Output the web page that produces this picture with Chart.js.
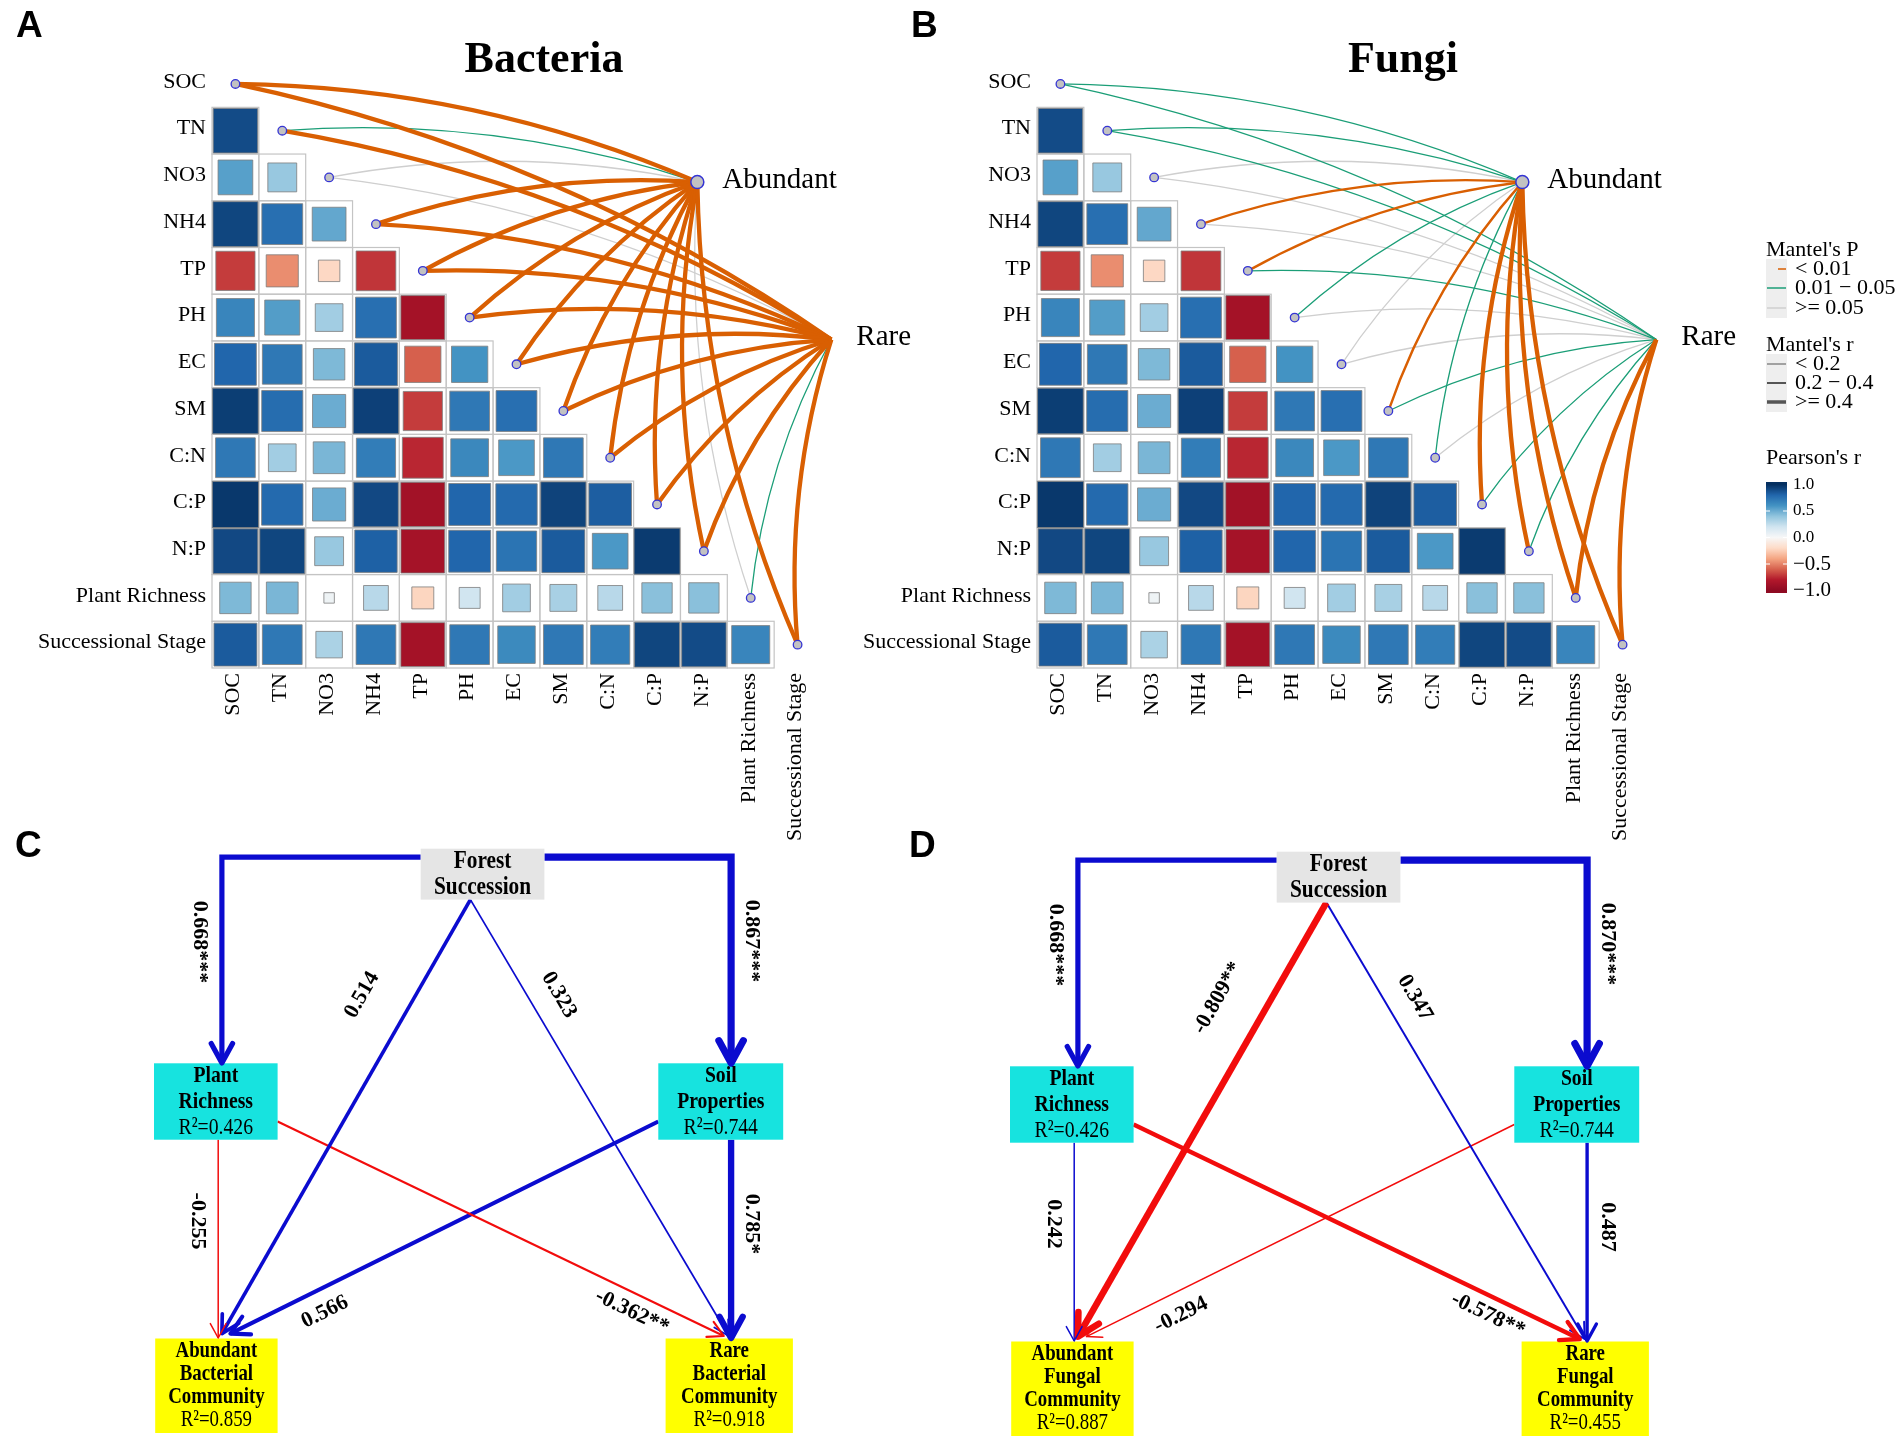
<!DOCTYPE html>
<html>
<head>
<meta charset="utf-8">
<title>Mantel tests and SEM</title>
<script src="https://cdn.jsdelivr.net/npm/chart.js@4.4.1/dist/chart.umd.min.js"></script>
<style>
  html, body { margin: 0; padding: 0; background: #fff; }
  #page { position: relative; width: 1901px; height: 1439px; overflow: hidden; background: #fff; }
  #page canvas { position: absolute; }
</style>
</head>
<body>
<div id="page">
  <canvas id="panelA" width="950" height="860" style="left:0;top:0;"></canvas>
  <canvas id="panelB" width="1076" height="860" style="left:825px;top:0;"></canvas>
  <canvas id="panelC" width="940" height="619" style="left:0;top:820px;"></canvas>
  <canvas id="panelD" width="940" height="616" style="left:856px;top:823px;"></canvas>
</div>
<script>
// ---------- data ----------
const envVars = ['SOC', 'TN', 'NO3', 'NH4', 'TP', 'PH', 'EC', 'SM', 'C:N', 'C:P', 'N:P',
                 'Plant Richness', 'Successional Stage'];

// Pearson's r, lower triangle (row i, columns 0..i-1)
const pearsonR = [
  [],
  [0.90],
  [0.55, 0.38],
  [0.92, 0.76, 0.52],
  [-0.70, -0.47, -0.21, -0.72],
  [0.66, 0.56, 0.35, 0.76, -0.88],
  [0.80, 0.72, 0.45, 0.84, -0.60, 0.60],
  [0.95, 0.77, 0.50, 0.94, -0.70, 0.72, 0.76],
  [0.72, 0.35, 0.46, 0.70, -0.76, 0.65, 0.58, 0.72],
  [0.97, 0.78, 0.50, 0.91, -0.89, 0.80, 0.78, 0.93, 0.83],
  [0.91, 0.92, 0.38, 0.82, -0.87, 0.80, 0.74, 0.84, 0.58, 0.96],
  [0.45, 0.46, 0.05, 0.28, -0.22, 0.20, 0.35, 0.33, 0.28, 0.42, 0.42],
  [0.84, 0.72, 0.32, 0.72, -0.88, 0.72, 0.64, 0.72, 0.70, 0.92, 0.90, 0.66]
];

const hubNames = ['Abundant', 'Rare'];

// Mantel tests, one value per env variable
const bacAbundantP = [0.001, 0.03, 0.30, 0.001, 0.001, 0.001, 0.001, 0.001, 0.001, 0.001, 0.001, 0.20, 0.001];
const bacAbundantR = [0.52, 0.15, 0.06, 0.50, 0.48, 0.50, 0.47, 0.53, 0.45, 0.55, 0.50, 0.08, 0.55];
const bacRareP     = [0.001, 0.001, 0.20, 0.001, 0.001, 0.001, 0.001, 0.001, 0.001, 0.001, 0.001, 0.02, 0.001];
const bacRareR     = [0.50, 0.45, 0.05, 0.50, 0.52, 0.48, 0.50, 0.51, 0.46, 0.53, 0.50, 0.15, 0.52];
const funAbundantP = [0.02, 0.02, 0.30, 0.005, 0.004, 0.03, 0.20, 0.008, 0.04, 0.001, 0.001, 0.001, 0.001];
const funAbundantR = [0.15, 0.15, 0.05, 0.25, 0.32, 0.15, 0.08, 0.24, 0.14, 0.48, 0.47, 0.50, 0.45];
const funRareP     = [0.02, 0.02, 0.30, 0.20, 0.03, 0.15, 0.20, 0.02, 0.10, 0.03, 0.03, 0.001, 0.001];
const funRareR     = [0.15, 0.15, 0.05, 0.08, 0.15, 0.08, 0.05, 0.15, 0.08, 0.15, 0.15, 0.55, 0.50];

// structural equation models: FS->PR, FS->SP, FS->AB, FS->RA, PR->AB, PR->RA, SP->AB, SP->RA
const bacCoef = [0.668, 0.867, 0.514, 0.323, -0.255, -0.362, 0.566, 0.785];
const bacSig  = ['***', '***', '', '', '', '**', '', '*'];
const funCoef = [0.668, 0.870, -0.809, 0.347, 0.242, -0.578, -0.294, 0.487];
const funSig  = ['***', '***', '**', '', '', '**', '', ''];
const bacR2 = [0.426, 0.744, 0.859, 0.918];
const funR2 = [0.426, 0.744, 0.887, 0.455];
const bacNodeNames = [['Forest', 'Succession'], ['Plant', 'Richness'], ['Soil', 'Properties'],
                      ['Abundant', 'Bacterial', 'Community'], ['Rare', 'Bacterial', 'Community']];
const funNodeNames = [['Forest', 'Succession'], ['Plant', 'Richness'], ['Soil', 'Properties'],
                      ['Abundant', 'Fungal', 'Community'], ['Rare', 'Fungal', 'Community']];

// ---------- styles / layout ----------
const SERIF = '"Liberation Serif", "Times New Roman", serif';
const SANS = '"Liberation Sans", Arial, sans-serif';
Chart.defaults.font.family = SERIF;
Chart.defaults.color = '#000';

const rdbuHex = ['#8E0A22', '#B2182B', '#D6604D', '#F4A582', '#FDDBC7', '#F7F7F7',
                 '#D1E5F0', '#92C5DE', '#4393C3', '#2166AC', '#053061'];
const pColors = ['#D95F02', '#1B9E77', '#CFCFCF'];
const hubAt = [[9.86, 2.10], [12.72, 5.47]];   // grid units

function parseHex(h) { return [1, 3, 5].map(k => parseInt(h.slice(k, k + 2), 16)); }
function rdbu(v) {
  const t = (Math.max(-1, Math.min(1, v)) + 1) * 5;
  const i = Math.min(9, Math.floor(t)), f = t - i;
  const a = parseHex(rdbuHex[i]), b = parseHex(rdbuHex[i + 1]);
  const c = a.map((ch, k) => Math.round(ch + (b[k] - ch) * f));
  return 'rgb(' + c.join(',') + ')';
}
function pClass(p) { return p < 0.01 ? 0 : (p < 0.05 ? 1 : 2); }
function rWidth(r) { return r < 0.2 ? 1.3 : (r < 0.4 ? 2.4 : 4.3); }

function drawMantelLegend(ctx) {
  const kx = 941, kw = 21, tx = 970;
  ctx.save();
  ctx.textAlign = 'left';
  ctx.textBaseline = 'middle';
  ctx.fillStyle = '#000';
  ctx.font = '22px ' + SERIF;
  ctx.fillText("Mantel's P", kx, 250);
  ctx.fillText("Mantel's r", kx, 345);
  ctx.fillText("Pearson's r", kx, 458);

  ctx.fillStyle = '#EEEEEE';
  ctx.fillRect(kx, 259, kw, 59);
  ctx.fillRect(kx, 354, kw, 58);

  const pText = ['< 0.01', '0.01 \u2212 0.05', '>= 0.05'];
  [269, 288, 308].forEach((yy, k) => {
    ctx.strokeStyle = pColors[k];
    ctx.lineWidth = 1.5;
    ctx.beginPath();
    ctx.moveTo(k === 0 ? kx + 12 : kx + 1, yy);
    ctx.lineTo(kx + kw - 1, yy);
    ctx.stroke();
    ctx.fillStyle = '#000';
    ctx.font = '22px ' + SERIF;
    ctx.fillText(pText[k], tx, yy);
  });

  const rText = ['< 0.2', '0.2 \u2212 0.4', '>= 0.4'];
  [364, 383, 402].forEach((yy, k) => {
    ctx.strokeStyle = '#555';
    ctx.lineWidth = [1, 2, 3.5][k];
    ctx.beginPath();
    ctx.moveTo(kx + 1, yy);
    ctx.lineTo(kx + kw - 1, yy);
    ctx.stroke();
    ctx.fillStyle = '#000';
    ctx.font = '22px ' + SERIF;
    ctx.fillText(rText[k], tx, yy);
  });

  // colour bar
  const yOf = v => 537.5 - v * 53;
  const grad = ctx.createLinearGradient(0, yOf(1), 0, yOf(-1));
  for (let s = 0; s <= 20; s++) grad.addColorStop(s / 20, rdbu(1 - s / 10));
  ctx.fillStyle = grad;
  ctx.fillRect(kx, 482, kw, 111);
  ctx.strokeStyle = '#fff';
  ctx.lineWidth = 1.2;
  [0.5, 0, -0.5].forEach(v => {
    ctx.beginPath();
    ctx.moveTo(kx, yOf(v)); ctx.lineTo(kx + 4, yOf(v));
    ctx.moveTo(kx + kw - 4, yOf(v)); ctx.lineTo(kx + kw, yOf(v));
    ctx.stroke();
  });
  ctx.fillStyle = '#000';
  [[1, '1.0'], [0.5, '0.5'], [0, '0.0'], [-0.5, '\u22120.5'], [-1, '\u22121.0']].forEach(([v, s]) => {
    ctx.font = (v < 0 ? '21px ' : '17px ') + SERIF;
    ctx.fillText(s, tx - 2, yOf(v));
  });
  ctx.restore();
}

// ---------- correlation + Mantel panels ----------
const corrPlugin = {
  id: 'corrDecor',
  beforeDatasetsDraw(chart) {
    const o = chart.options.plugins.corrDecor;
    const { ctx, scales: { x, y } } = chart;
    const px = v => x.getPixelForValue(v), py = v => y.getPixelForValue(v);
    ctx.save();
    ctx.strokeStyle = '#C4C4C4';
    ctx.lineWidth = 1.2;
    pearsonR.forEach((row, i) => row.forEach((r, j) => {
      const x0 = px(j - 0.5), x1 = px(j + 0.5), y0 = py(i - 0.5), y1 = py(i + 0.5);
      ctx.strokeRect(x0, y0, x1 - x0, y1 - y0);
    }));

    const links = [];
    [[o.abundP, o.abundR], [o.rareP, o.rareR]].forEach(([pArr, rArr], h) => {
      envVars.forEach((_, k) => links.push({ k, h, cls: pClass(pArr[k]), w: rWidth(rArr[k]) }));
    });
    links.sort((a, b) => b.cls - a.cls || a.w - b.w);
    links.forEach(l => {
      const x0 = px(l.k), y0 = py(l.k);
      const x1 = px(hubAt[l.h][0]), y1 = py(hubAt[l.h][1]);
      const dx = x1 - x0, dy = y1 - y0;
      ctx.beginPath();
      ctx.moveTo(x0, y0);
      ctx.quadraticCurveTo((x0 + x1) / 2 + 0.1 * dy, (y0 + y1) / 2 - 0.1 * dx, x1, y1);
      ctx.strokeStyle = pColors[l.cls];
      ctx.lineWidth = l.w;
      ctx.stroke();
    });
    ctx.restore();
  },
  afterDraw(chart) {
    const o = chart.options.plugins.corrDecor;
    const { ctx, scales: { x, y } } = chart;
    const px = v => x.getPixelForValue(v), py = v => y.getPixelForValue(v);
    ctx.save();
    ctx.fillStyle = '#000';
    ctx.font = '22px ' + SERIF;
    ctx.textAlign = 'right';
    ctx.textBaseline = 'middle';
    envVars.forEach((name, i) => ctx.fillText(name, px(-0.5) - 6, py(i) - 2));
    envVars.forEach((name, j) => {
      ctx.save();
      ctx.translate(px(j) - 2, py(12.5) + 5);
      ctx.rotate(-Math.PI / 2);
      ctx.fillText(name, 0, 0);
      ctx.restore();
    });

    ctx.textAlign = 'left';
    ctx.font = '29px ' + SERIF;
    hubNames.forEach((name, h) => ctx.fillText(name, px(hubAt[h][0]) + 25, py(hubAt[h][1]) - 2));

    ctx.textAlign = 'center';
    ctx.textBaseline = 'alphabetic';
    ctx.font = 'bold 44px ' + SERIF;
    ctx.fillText(o.title, o.titleX, 72);

    ctx.textAlign = 'left';
    ctx.font = 'bold 37px ' + SANS;
    ctx.fillText(o.letter, o.letterX, 37);
    ctx.restore();
    if (o.legend) drawMantelLegend(ctx);
  }
};

function corrPanel(id, opts) {
  const cells = [];
  pearsonR.forEach((row, i) => row.forEach((r, j) => cells.push({ x: j, y: i, r })));
  const diag = envVars.map((_, i) => ({ x: i, y: i }));
  const hubs = hubAt.map(p => ({ x: p[0], y: p[1] }));
  const canvas = document.getElementById(id);
  return new Chart(canvas, {
    type: 'scatter',
    data: {
      datasets: [
        { data: hubs, pointRadius: 6.5, backgroundColor: '#C2C2C2', borderColor: '#3434D4', borderWidth: 1.5, clip: false },
        { data: diag, pointRadius: 4.3, backgroundColor: '#C2C2C2', borderColor: '#3434D4', borderWidth: 1.3, clip: false },
        {
          data: cells,
          pointStyle: 'rect',
          pointRadius: ctx => {
            if (!ctx.raw) return 0;
            const xs = ctx.chart.scales.x;
            const cell = xs.getPixelForValue(1) - xs.getPixelForValue(0);
            return cell * Math.sqrt(Math.abs(ctx.raw.r)) / Math.SQRT2;
          },
          backgroundColor: ctx => ctx.raw ? rdbu(ctx.raw.r) : '#fff',
          borderColor: '#7E7E7E',
          borderWidth: 0.8,
          clip: false
        }
      ]
    },
    options: {
      responsive: false,
      animation: false,
      events: [],
      layout: { padding: { left: 212, right: canvas.width - 821, top: 60.6, bottom: canvas.height - 668 } },
      scales: {
        x: { type: 'linear', min: -0.5, max: 12.5, display: false },
        y: { type: 'linear', min: -0.5, max: 12.5, reverse: true, display: false }
      },
      plugins: { legend: { display: false }, tooltip: { enabled: false }, corrDecor: opts }
    },
    plugins: [corrPlugin]
  });
}

corrPanel('panelA', {
  title: 'Bacteria', titleX: 544, letter: 'A', letterX: 16, legend: false,
  abundP: bacAbundantP, abundR: bacAbundantR, rareP: bacRareP, rareR: bacRareR
});
corrPanel('panelB', {
  title: 'Fungi', titleX: 578, letter: 'B', letterX: 86, legend: true,
  abundP: funAbundantP, abundR: funAbundantR, rareP: funRareP, rareR: funRareR
});

// ---------- SEM panels ----------
const semBlue = '#0B0BCF', semRed = '#F20C0C';
const semBoxes = [
  { rect: [420.7, 28.7, 544.4, 79.6], fill: '#E5E5E5', size: 26, gap: 25.5 },
  { rect: [154, 243.3, 277.6, 319.7], fill: '#17E3DF', size: 24, gap: 26 },
  { rect: [658.3, 243.3, 783.2, 319.7], fill: '#17E3DF', size: 24, gap: 26 },
  { rect: [155.2, 518.5, 277.6, 613], fill: '#FFFF00', size: 23, gap: 23 },
  { rect: [665.6, 518.5, 792.9, 613], fill: '#FFFF00', size: 23, gap: 23 }
];
const semPaths = [
  [[420.7, 37.2], [221.9, 37.2], [221.9, 243]],
  [[544.4, 37.2], [731.1, 37.2], [731.1, 243]],
  [[470.4, 79.6], [221.9, 513.6]],
  [[470.4, 79.6], [728.7, 516]],
  [[218.2, 319.7], [218.2, 518]],
  [[277.6, 301.5], [723.8, 516]],
  [[658.3, 301.5], [230.4, 513.6]],
  [[731.1, 319.7], [731.1, 518]]
];
const semLabelAt = [[200, 122], [752, 121], [362, 175], [559, 175], [198, 401], [632, 492], [325, 492], [752, 404]];

function edgeWidth(c) { return Math.max(1.5, 10 * Math.abs(c) - 1.5); }

function squeezeText(ctx, s, cx, cy, font, sx) {
  ctx.save();
  ctx.translate(cx, cy);
  ctx.scale(sx, 1);
  ctx.font = font;
  ctx.textAlign = 'center';
  ctx.textBaseline = 'middle';
  ctx.fillText(s, 0, 0);
  ctx.restore();
}

const semPlugin = {
  id: 'semDecor',
  afterDatasetsDraw(chart) {
    const o = chart.options.plugins.semDecor;
    const { ctx, scales: { x, y } } = chart;
    const px = v => x.getPixelForValue(v), py = v => y.getPixelForValue(v);
    ctx.save();

    // boxes
    semBoxes.forEach((b, n) => {
      const x0 = px(b.rect[0]), x1 = px(b.rect[2]), y0 = py(b.rect[1]), y1 = py(b.rect[3]);
      ctx.fillStyle = b.fill;
      ctx.fillRect(x0, y0, x1 - x0, y1 - y0);
      const lines = o.names[n].slice();
      if (n > 0) lines.push('R\u00B2=' + o.r2[n - 1].toFixed(3));
      const cx = (x0 + x1) / 2, cy = (y0 + y1) / 2;
      ctx.fillStyle = '#000';
      lines.forEach((s, k) => {
        const yy = cy + (k - (lines.length - 1) / 2) * b.gap;
        const bold = n === 0 || k < lines.length - 1;
        squeezeText(ctx, s, cx, yy, (bold ? 'bold ' : '') + b.size + 'px ' + SERIF, 0.82);
      });
    });

    // arrow heads
    semPaths.forEach((pts, k) => {
      const a = pts[pts.length - 2], b = pts[pts.length - 1];
      const tx = px(b[0]), ty = py(b[1]);
      const ang = Math.atan2(ty - py(a[1]), tx - px(a[0]));
      const w = edgeWidth(o.coef[k]);
      const len = 14 + 1.6 * w, spread = 0.5;
      ctx.strokeStyle = o.coef[k] < 0 ? semRed : semBlue;
      ctx.lineWidth = w;
      ctx.lineJoin = 'round';
      ctx.lineCap = 'round';
      ctx.beginPath();
      ctx.moveTo(tx - len * Math.cos(ang - spread), ty - len * Math.sin(ang - spread));
      ctx.lineTo(tx, ty);
      ctx.lineTo(tx - len * Math.cos(ang + spread), ty - len * Math.sin(ang + spread));
      ctx.stroke();
    });

    // path coefficients
    ctx.fillStyle = '#000';
    ctx.font = 'bold 22px ' + SERIF;
    ctx.textAlign = 'center';
    ctx.textBaseline = 'middle';
    semPaths.forEach((pts, k) => {
      const a = pts[pts.length - 2], b = pts[pts.length - 1];
      let ang = Math.atan2(py(b[1]) - py(a[1]), px(b[0]) - px(a[0]));
      if (ang > Math.PI / 2 + 1e-6) ang -= Math.PI;
      if (ang < -Math.PI / 2 + 1e-6) ang += Math.PI;
      ctx.save();
      ctx.translate(px(semLabelAt[k][0]), py(semLabelAt[k][1]));
      ctx.rotate(ang);
      ctx.fillText(o.coef[k].toFixed(3) + o.sig[k], 0, 0);
      ctx.restore();
    });

    ctx.textAlign = 'left';
    ctx.textBaseline = 'alphabetic';
    ctx.font = 'bold 37px ' + SANS;
    ctx.fillText(o.letter, o.letterAt[0], o.letterAt[1]);
    ctx.restore();
  }
};

function semPanel(id, opts) {
  const canvas = document.getElementById(id);
  const datasets = semPaths.map((pts, k) => ({
    type: 'line',
    data: pts.map(p => ({ x: p[0], y: p[1] })),
    borderColor: opts.coef[k] < 0 ? semRed : semBlue,
    borderWidth: edgeWidth(opts.coef[k]),
    borderJoinStyle: 'miter',
    borderCapStyle: 'butt',
    pointRadius: 0,
    tension: 0,
    clip: false
  }));
  return new Chart(canvas, {
    type: 'scatter',
    data: { datasets },
    options: {
      responsive: false,
      animation: false,
      events: [],
      layout: { padding: 0 },
      scales: {
        x: { type: 'linear', min: 0, max: canvas.width, display: false },
        y: { type: 'linear', min: 0, max: canvas.height, reverse: true, display: false }
      },
      plugins: { legend: { display: false }, tooltip: { enabled: false }, semDecor: opts }
    },
    plugins: [semPlugin]
  });
}

semPanel('panelC', { coef: bacCoef, sig: bacSig, r2: bacR2, names: bacNodeNames, letter: 'C', letterAt: [15, 37] });
semPanel('panelD', { coef: funCoef, sig: funSig, r2: funR2, names: funNodeNames, letter: 'D', letterAt: [53, 34] });
</script>
</body>
</html>
